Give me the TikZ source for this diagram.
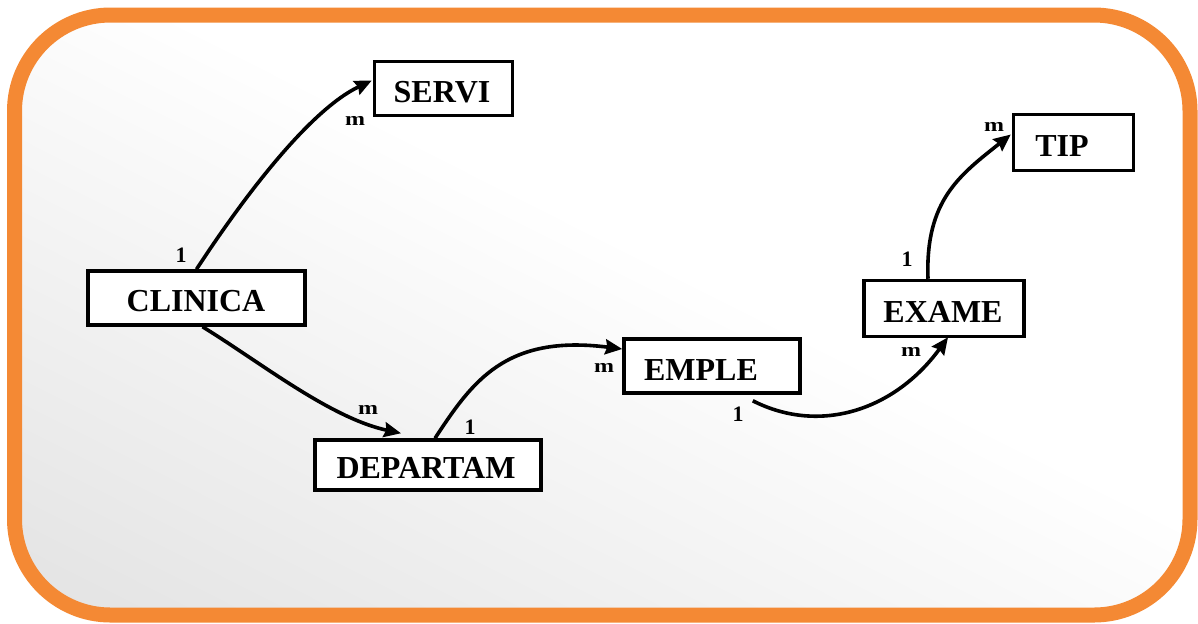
\documentclass[tikz,border=0pt]{standalone}
\usepackage{fontspec}
\setmainfont{Liberation Serif}
\usetikzlibrary{arrows.meta,calc}
\definecolor{frameorange}{RGB}{244,137,52}
\definecolor{panelgrey}{gray}{0.89}
\begin{document}
\begin{tikzpicture}[x=0.5pt,y=-0.5pt,
  entity/.style={draw=black,line width=1.75pt,fill=white,inner sep=0pt},
  ename/.style={font=\bfseries\fontsize{16}{16}\selectfont,inner sep=0pt},
  cardm/.style={font=\bfseries\fontsize{12}{12}\selectfont,inner sep=0pt},
  cardone/.style={font=\bfseries\fontsize{11}{11}\selectfont,inner sep=0pt},
  rel/.style={line width=1.8pt,-{Stealth[length=8.5pt,width=7.5pt,inset=1pt]}},
]
\useasboundingbox (0,0) rectangle (1198,623);
% panel: white, darkening softly towards the lower left corner
\begin{scope}
  \clip[rounded corners=48pt] (14.5,15) rectangle (1190,615);
  \fill[white] (0,0) rectangle (1198,623);
  \begin{scope}[transform canvas={rotate around={-26.8:(22,608)}}]
    \shade[top color=white, bottom color=panelgrey] (-1600,608) rectangle (2600,8);
    \fill[panelgrey] (-1600,1600) rectangle (2600,608);
  \end{scope}
\end{scope}
\draw[frameorange, line width=7.5pt, rounded corners=48pt] (14.5,15) rectangle (1190,615);

% entities
\node[entity,minimum width=69pt,minimum height=27pt] (servi) at (443.5,88.5) {};
\node[ename] (serviname) at (442,92.5) {SERVI};
\node[entity,minimum width=108.5pt,minimum height=27pt] (clinica) at (196.5,298) {};
\node[ename] (clinicaname) at (196,301) {CLINICA};
\node[entity,minimum width=113pt,minimum height=25pt] (departam) at (428,465) {};
\node[ename] (departamname) at (426,468) {DEPARTAM};
\node[entity,minimum width=88pt,minimum height=27pt] (emple) at (712,366) {};
\node[ename] (emplename) at (701,370) {EMPLE};
\node[entity,minimum width=80pt,minimum height=28pt] (exame) at (944,308.5) {};
\node[ename] (examename) at (943,312) {EXAME};
\node[entity,minimum width=60pt,minimum height=28pt] (tip) at (1073.5,142.5) {};
\node[ename] (tipname) at (1062,146) {TIP};

% relationships
\draw[rel] (clinica.north) .. controls (245,195) and (310,110) .. ($(servi.west)+(-1,-8)$);
\draw[rel] ($(clinica.south)+(6,0)$) .. controls (260,362) and (330,418) .. ($(departam.north)+(-27,-5)$);
\draw[rel] ($(departam.north)+(7,0)$) .. controls (472,382) and (505,334) .. ($(emple.west)+(0,-17)$);
\draw[rel] ($(emple.south east)+(-49,6)$) .. controls (820,435) and (895,410) .. ($(exame.south)+(4,-1)$);
\draw[rel] ($(exame.north)+(-16,0)$) .. controls (925,200) and (960,175) .. ($(tip.west)+(-1,-8)$);

% cardinalities
\node[cardm] (servim) at (355,121) {\scalebox{1}[0.8]{m}};
\node[cardone] (clinicaone) at (181,255) {1};
\node[cardm] (departamm) at (368,410) {\scalebox{1}[0.8]{m}};
\node[cardone] (departamone) at (470,427) {1};
\node[cardm] (emplem) at (604,368) {\scalebox{1}[0.8]{m}};
\node[cardone] (empleone) at (738,414) {1};
\node[cardone] (exameone) at (907,259) {1};
\node[cardm] (examem) at (911,352) {\scalebox{1}[0.8]{m}};
\node[cardm] (tipm) at (994,127) {\scalebox{1}[0.8]{m}};
\end{tikzpicture}
\end{document}
